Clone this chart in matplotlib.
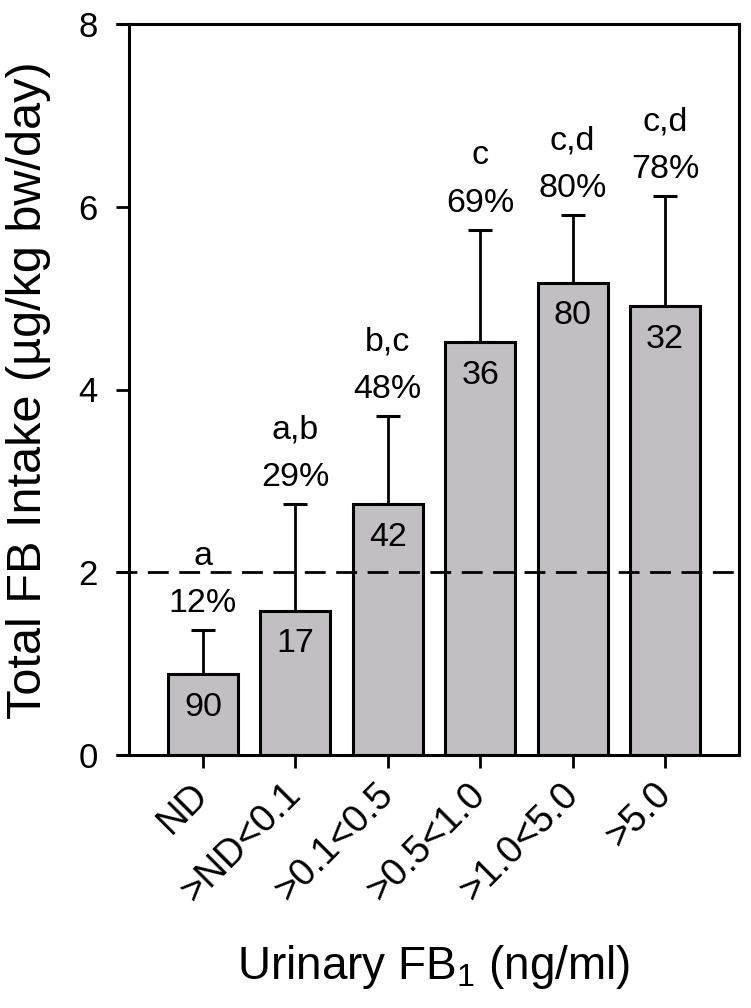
import numpy as np
import matplotlib
matplotlib.use("Agg")
import matplotlib.pyplot as plt

plt.rcParams['font.family'] = ['Liberation Sans', 'DejaVu Sans']
plt.rcParams['mathtext.fontset'] = 'custom'
plt.rcParams['mathtext.rm'] = 'Liberation Sans'
plt.rcParams['mathtext.it'] = 'Liberation Sans:italic'

# data
categories = ["ND", ">ND<0.1", ">0.1<0.5", ">0.5<1.0", ">1.0<5.0", ">5.0"]
intake_mean = [0.89, 1.58, 2.75, 4.52, 5.17, 4.91]
intake_err_top = [1.37, 2.75, 3.71, 5.75, 5.91, 6.12]
n_subjects = ["90", "17", "42", "36", "80", "32"]
pct_exceed = ["12%", "29%", "48%", "69%", "80%", "78%"]
sig_letters = ["a", "a,b", "b,c", "c", "c,d", "c,d"]
limit_value = 2.0

fig = plt.figure(figsize=(7.51, 10.08), dpi=100)
ax = fig.add_axes([129/751, 1-755/1008, 610/751, 731/1008])

x = np.arange(len(categories))
err_up = np.array(intake_err_top) - np.array(intake_mean)
yerr = [np.zeros(len(x)), err_up]

ax.bar(x, intake_mean, width=0.76, color='#c1bfc1', edgecolor='black',
       linewidth=2.2, zorder=2)
ax.errorbar(x, intake_mean, yerr=yerr, fmt='none', ecolor='black',
            elinewidth=2.0, capsize=8.5, capthick=2.2, zorder=1)

# dashed reference line
ax.axhline(limit_value, xmin=-0.0213, xmax=1, color='black', lw=2.0,
           ls=(0, (7.5, 3.8)), clip_on=False, zorder=3)

for i in range(len(x)):
    ax.annotate(pct_exceed[i], (x[i], intake_err_top[i]), xytext=(0, 19),
                textcoords='offset points', ha='center', va='center', fontsize=24.5)
    ax.annotate(sig_letters[i], (x[i], intake_err_top[i]), xytext=(0, 53),
                textcoords='offset points', ha='center', va='center', fontsize=24.5)
    ax.annotate(n_subjects[i], (x[i], intake_mean[i]), xytext=(0, -24),
                textcoords='offset points', ha='center', va='center', fontsize=24.5)

ax.set_xlim(-0.8, 5.8)
ax.set_ylim(0, 8)
ax.set_yticks([0, 2, 4, 6, 8])
ax.set_xticks(x)
ax.set_xticklabels(categories, rotation=45, ha='right', va='center',
                   rotation_mode='anchor', fontsize=27.5)
ax.tick_params(axis='both', direction='out', length=9.5, width=2.0)
ax.tick_params(axis='y', labelsize=25, pad=13)
ax.tick_params(axis='x', pad=15)
for s in ax.spines.values():
    s.set_linewidth(2.2)

# top and bottom lines run past the left axis like in the original
for yy in (0, 1):
    ax.plot([-0.0213, 0], [yy, yy], transform=ax.transAxes, color='black',
            lw=2.2, clip_on=False, solid_capstyle='butt')

fig.text(29/751, 1-390/1008, u"Total FB Intake (\u00b5g/kg bw/day)", rotation=90,
         ha='center', va='center', fontsize=35)
fig.text(434/751, 1-967/1008, "Urinary FB$_1$ (ng/ml)", ha='center',
         va='center', fontsize=33)

fig.savefig("out.png", dpi=100)
